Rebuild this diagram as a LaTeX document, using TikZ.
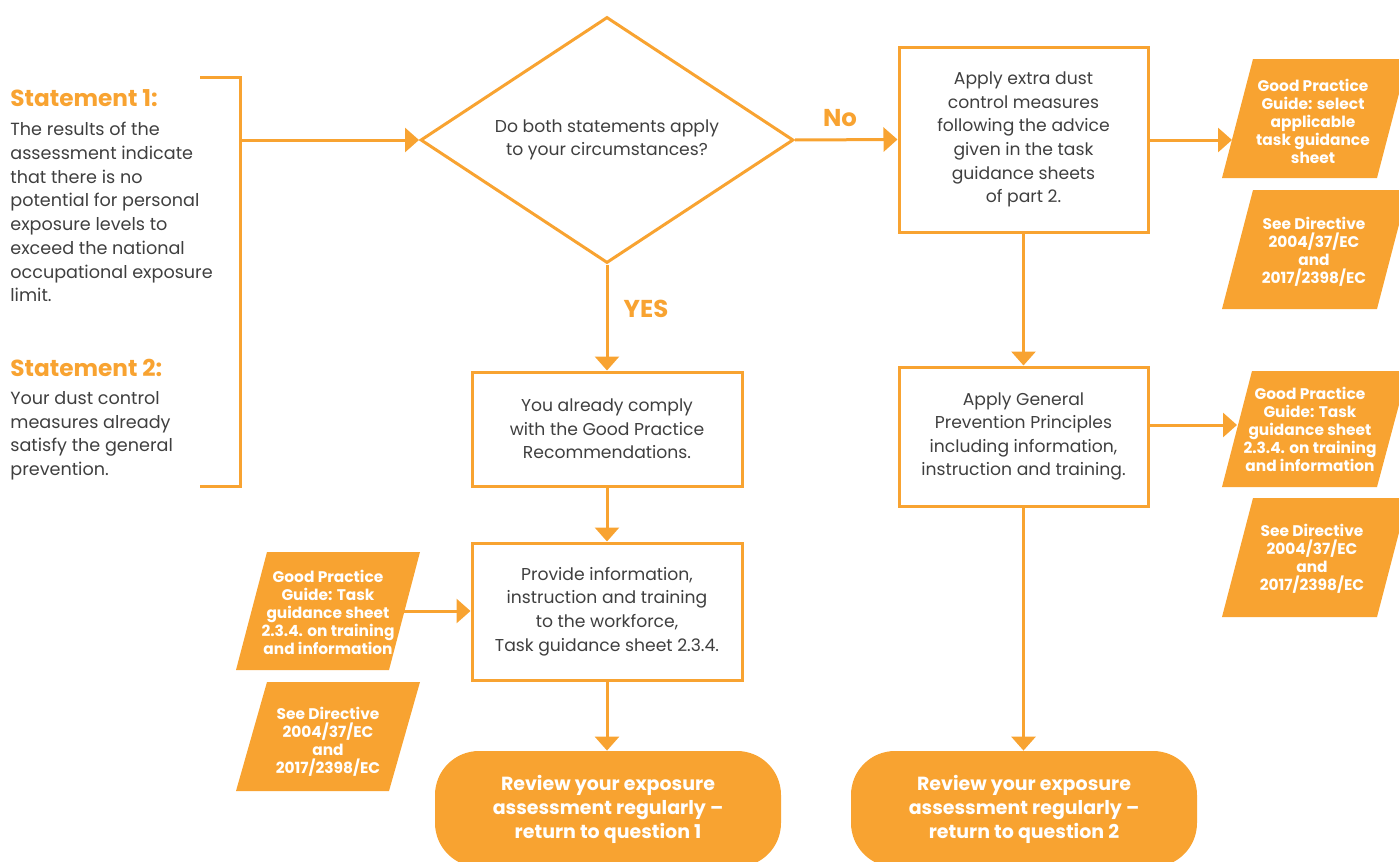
\documentclass[tikz,border=0pt]{standalone}
\usepackage{fontspec}
\setmainfont{Poppins}
\usetikzlibrary{positioning, arrows.meta, shapes.geometric}
\definecolor{dustorange}{HTML}{F8A331}
\definecolor{dusttext}{HTML}{3F3F3F}

\begin{document}
\begin{tikzpicture}[x=0.5pt, y=-0.5pt,
        >={Triangle[length=7pt, width=12pt]},
        flow/.style={line width=1.5pt, draw=dustorange},
        stepbox/.style={draw=dustorange, line width=1.5pt, align=center, text=dusttext, inner sep=0pt,
            minimum width=124.5pt, font=\fontsize{8.6}{11.8}\selectfont},
        question/.style={diamond, aspect=1.5, draw=dustorange, line width=1.5pt, align=center, text=dusttext, inner sep=0pt,
            minimum width=186.5pt, minimum height=123pt, font=\fontsize{8.6}{11.8}\selectfont},
        pill/.style={fill=dustorange, rounded corners=22pt, text=white, align=center, inner sep=0pt,
            minimum width=173pt, minimum height=58pt, font=\bfseries\fontsize{9.5}{12}\selectfont},
        guide/.style={text=white, align=center, inner sep=0pt, font=\bfseries\fontsize{7.7}{9}\selectfont},
        stmthead/.style={text=dustorange, inner sep=0pt, font=\bfseries\fontsize{11.6}{13}\selectfont},
        stmtbody/.style={text=dusttext, align=left, inner sep=0pt, font=\fontsize{8.8}{11.85}\selectfont},
        answer/.style={text=dustorange, inner sep=0pt, font=\bfseries\fontsize{12.2}{14}\selectfont}]
    \useasboundingbox (0,0) rectangle (1399,862);

    % statements and bracket
    \node[stmthead, anchor=base west] (head1) at (10,106) {Statement 1:};
    \node[stmtbody, anchor=north west] (body1) at (10,122) {The results of the\\assessment indicate\\that there is no\\potential for personal\\exposure levels to\\exceed the national\\occupational exposure\\limit.};
    \node[stmthead, anchor=base west] (head2) at (10,376) {Statement 2:};
    \node[stmtbody, anchor=north west] (body2) at (10,391) {Your dust control\\measures already\\satisfy the general\\prevention.};
    \draw[flow] (200,77) -- (240,77) -- (240,486) -- (200,486);
    \coordinate (brk) at (240,140);

    % main flow
    \node[question] (ask) at (607,140) {Do both statements apply\\to your circumstances?};
    \node[stepbox, minimum height=92.5pt] (extra) at (1023.5,139.5) {Apply extra dust\\control measures\\following the advice\\given in the task\\guidance sheets\\of part 2.};
    \node[stepbox, minimum height=69.5pt] (general) at (1023.5,436.5) {Apply General\\Prevention Principles\\including information,\\instruction and training.};
    \node[stepbox, minimum width=135pt, minimum height=57pt] (comply) at (607,429) {You already comply\\with the Good Practice\\Recommendations.};
    \node[stepbox, minimum width=135pt, minimum height=68.5pt] (inform) at (607,611.5) {Provide information,\\instruction and training\\to the workforce,\\Task guidance sheet 2.3.4.};
    \node[pill] (review1) at (608,809) {Review your exposure\\assessment regularly --\\return to question 1};
    \node[pill] (review2) at (1024,809) {Review your exposure\\assessment regularly --\\return to question 2};

    \node[answer] (no) at (840,118) {No};
    \node[answer] (yes) at (646,309) {YES};

    % guidance sheets
    \fill[dustorange] (1222,178) -- (1253,59) -- (1408,59) -- (1377,178) -- cycle;
    \node[guide] (guideA) at (1313,121) {Good Practice\\Guide: select\\applicable\\task guidance\\sheet};
    \fill[dustorange] (1222,309) -- (1253,190) -- (1408,190) -- (1377,309) -- cycle;
    \node[guide] (guideB) at (1314,252) {See Directive\\2004/37/EC\\and\\2017/2398/EC};
    \fill[dustorange] (1222,487) -- (1252,371) -- (1408,371) -- (1377,487) -- cycle;
    \node[guide] (guideC) at (1310,429) {Good Practice\\Guide: Task\\guidance sheet\\2.3.4. on training\\and information};
    \fill[dustorange] (1222,617) -- (1253,498) -- (1408,498) -- (1377,617) -- cycle;
    \node[guide] (guideD) at (1312,559) {See Directive\\2004/37/EC\\and\\2017/2398/EC};
    \fill[dustorange] (236,670) -- (267,552) -- (420,552) -- (389,670) -- cycle;
    \node[guide] (guideE) at (328,612) {Good Practice\\Guide: Task\\guidance sheet\\2.3.4. on training\\and information};
    \fill[dustorange] (236,791) -- (267,682) -- (420,682) -- (389,791) -- cycle;
    \node[guide] (guideF) at (328,742) {See Directive\\2004/37/EC\\and\\2017/2398/EC};
    \coordinate (gA) at (1232,140);
    \coordinate (gC) at (1237,425);
    \coordinate (gE) at (404,611);

    \draw[->, flow] (brk) -- (ask.west);
    \draw[->, flow] (ask.east) -- (extra.west);
    \draw[->, flow] (ask.south) -- (comply.north);
    \draw[->, flow] (comply.south) -- (inform.north);
    \draw[->, flow] (inform.south) -- (review1.north -| inform.south);
    \draw[->, flow] (extra.south) -- (general.north);
    \draw[->, flow] (general.south) -- (review2.north -| general.south);
    \draw[->, flow] (extra.east |- gA) -- (gA);
    \draw[->, flow] (general.east |- gC) -- (gC);
    \draw[->, flow] (gE) -- (inform.west |- gE);
\end{tikzpicture}
\end{document}
